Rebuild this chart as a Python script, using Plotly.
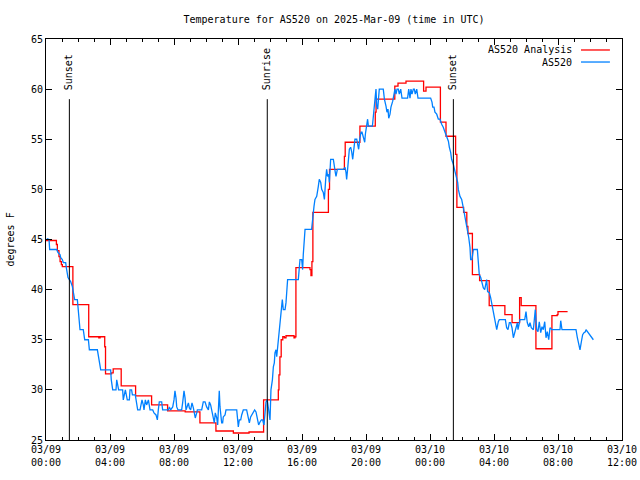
import plotly.graph_objects as go
import pandas as pd

# ---------------- data (hours after 2025-03-09 00:00 UTC, degrees F) ----------------
analysis_hours = [0.0, 0.65, 0.71, 0.81, 0.88, 0.96, 1.02, 1.68, 2.67, 3.3, 3.38, 3.67, 3.72,
                  4.1, 4.2, 4.7, 5.6, 6.6, 7.6, 8.7, 9.62, 10.62, 11.71, 12.69,
                  13.6, 14.52, 14.56, 14.62, 14.7, 14.8, 14.9, 15.0, 15.5, 15.56, 15.62,
                  16.5, 16.56, 16.62, 16.68, 17.65, 17.72, 18.65, 18.7, 19.62, 20.58, 20.63,
                  21.8, 22.0, 22.5, 23.6, 23.75, 24.65, 25.0, 25.6, 25.68, 26.1, 26.3, 26.37,
                  26.65, 27.1, 27.7, 28.68, 29.13, 29.6, 29.7, 30.62, 31.62, 31.95, 32.0, 32.6]
analysis_temp = [44.9, 44.5, 43.9, 43.3, 42.8, 42.5, 42.3, 38.5, 35.3, 35.2, 35.3, 34.3, 31.6,
                 31.7, 32.1, 30.4, 29.4, 28.5, 27.9, 27.8, 26.7, 25.9, 25.7, 25.8,
                 29.0, 30.0, 31.5, 33.3, 35.0, 35.3, 35.2, 35.4, 35.2, 35.3, 42.2,
                 42.0, 41.4, 42.8, 47.7, 50.0, 52.0, 53.3, 54.7, 56.3, 57.7, 59.0,
                 60.3, 60.6, 60.8, 59.8, 60.2, 56.7, 55.3, 53.5, 48.2, 47.7, 46.3, 45.6,
                 41.5, 40.9, 38.4, 37.5, 36.7, 39.2, 38.4, 34.1, 37.4, 37.5, 37.8, 37.8]

obs_hours = [0.05, 0.19, 0.23, 0.67, 0.75, 0.875, 0.92, 1.02, 1.08, 1.23, 1.27, 1.33, 1.375,
             1.46, 1.54, 1.65, 1.69, 1.75, 1.79, 1.96, 2.02, 2.08, 2.125, 2.33, 2.375, 2.42,
             2.65, 2.71, 3.21, 3.27, 3.31, 3.35, 3.42, 4.04, 4.08,
             4.17, 4.375, 4.42, 4.48, 4.54, 4.79, 4.83, 4.96, 5.04, 5.08, 5.21, 5.25, 5.35,
             5.40, 5.58, 5.67, 5.73, 5.875, 5.92, 6.0, 6.08, 6.125, 6.21, 6.29, 6.40, 6.46,
             6.5, 6.67, 6.75, 6.875, 6.96, 7.02, 7.08, 7.23, 7.29, 7.65, 7.71, 7.79, 7.92,
             8.0, 8.06, 8.125, 8.17, 8.25, 8.48, 8.54, 8.625, 8.69, 8.75, 8.9, 8.96, 9.04,
             9.125, 9.21, 9.29, 9.33, 9.42, 9.46, 9.73, 9.83, 9.94, 10.04, 10.15, 10.21,
             10.29, 10.35, 10.42, 10.46, 10.52, 10.58, 10.67, 10.73, 10.79, 10.83, 10.875,
             10.92, 10.98, 11.04, 11.08, 11.19, 11.25, 11.92, 11.96, 12.02, 12.08, 12.17,
             12.23, 12.33, 12.54, 12.625, 12.71, 12.79, 12.96, 13.04, 13.125, 13.21, 13.29,
             13.375, 13.46, 13.54, 13.625, 13.69, 13.75, 13.83, 13.92, 14.0,
             14.06, 14.15, 14.21, 14.27, 14.31, 14.375, 14.42, 14.48, 14.52, 14.58, 14.65,
             14.71, 14.77, 14.83, 14.94, 15.0, 15.06, 15.1, 15.77, 15.83, 15.875, 15.98,
             16.04, 16.08, 16.12, 16.15, 16.19, 16.6, 16.65, 16.71, 16.75, 16.81, 16.92,
             17.02, 17.08, 17.17, 17.23, 17.33, 17.4, 17.48, 17.54, 17.6, 17.67, 17.71,
             17.79, 17.96, 18.02, 18.08, 18.125, 18.21, 18.58, 18.69, 18.75, 18.79, 18.85,
             18.92, 18.96, 19.04, 19.1, 19.17, 19.25, 19.31, 19.42, 19.46, 19.54, 19.625,
             19.69, 19.75, 19.83, 19.92, 19.96, 20.04, 20.1, 20.15, 20.4, 20.46, 20.52,
             20.58, 20.625, 20.67, 20.73, 20.79, 20.83, 21.08, 21.15, 21.25, 21.31, 21.375,
             21.42,
             21.5, 21.56, 21.67, 21.75, 21.81, 21.875, 21.94, 22.02, 22.08, 22.17, 22.25,
             22.6, 22.67, 22.75, 22.81, 22.875, 22.96, 23.02, 23.08, 23.17, 23.25, 24.04,
             24.125, 24.17, 24.25, 24.31, 24.42, 24.52, 24.625, 24.73, 24.83, 24.94, 25.04,
             25.15, 25.21, 25.29, 25.35, 25.46, 25.56, 25.67, 25.73, 25.77, 25.875, 25.98,
             26.04, 26.125, 26.19, 26.25, 26.33, 26.42, 26.5, 26.54, 26.625, 26.71, 26.96,
             27.02, 27.08, 27.17, 27.23, 27.33, 27.42, 27.48, 27.54, 27.6, 27.71, 27.79,
             27.875, 27.96, 28.06, 28.17, 28.27, 28.33, 28.71, 28.79, 28.875, 28.96, 29.04,
             29.125, 29.21, 29.29, 29.375, 29.46, 29.5, 29.625, 29.92, 30.0, 30.08, 30.17,
             30.25, 30.33, 30.46, 30.54, 30.58, 30.67, 30.75, 30.83, 30.92, 31.0, 31.08,
             31.17, 31.25, 31.33, 31.42, 31.5, 31.625, 32.125, 32.17, 32.25, 33.125, 33.21,
             33.29, 33.375, 33.46, 33.54, 33.625, 33.71, 33.75, 34.0, 34.21]
obs_temp = [45.1, 45.0, 44.0, 44.0, 43.7, 43.5, 43.2, 43.0, 42.7, 42.7, 42.2, 41.7, 41.2,
            41.0, 40.8, 40.3, 40.0, 39.5, 39.0, 39.0, 37.7, 36.7, 36.0, 36.0, 35.5, 35.0,
            35.0, 34.0, 34.0, 33.5, 33.2, 32.5, 32.0, 32.0, 31.0,
            30.0, 30.0, 31.0, 30.5, 30.0, 30.0, 29.0, 30.0, 29.5, 29.0, 29.0, 30.0, 30.0,
            29.5, 29.5, 28.7, 28.0, 28.0, 28.5, 29.0, 28.5, 28.0, 29.0, 28.5, 29.0, 28.0,
            28.0, 28.0, 27.7, 27.5, 27.0, 28.0, 28.8, 28.8, 28.0, 28.0, 28.3, 28.0, 28.3,
            29.0, 29.9, 29.2, 28.3, 28.0, 28.0, 28.7, 29.9, 29.2, 28.0, 28.7, 28.2, 28.0,
            28.7, 28.2, 27.7, 27.2, 27.7, 28.0, 28.0, 28.8, 28.8, 28.3, 28.0, 28.8,
            28.5, 28.0, 27.7, 27.0, 26.7, 27.7, 27.2, 26.5, 29.0, 29.9, 28.3,
            27.7, 26.7, 26.7, 27.3, 27.5, 28.0, 28.0, 27.0, 26.3, 27.0, 27.0,
            27.5, 28.0, 28.0, 27.3, 26.7, 27.3, 27.7, 28.0, 27.8, 27.0, 26.5,
            26.8, 27.0, 27.0, 26.5, 27.7, 28.8, 29.0, 27.8, 27.0,
            30.0, 31.0, 32.3, 32.7, 33.7, 34.0, 33.3, 34.3, 35.3, 36.5, 37.3,
            38.5, 39.0, 38.0, 38.0, 38.7, 40.0, 41.0, 41.0, 42.2, 43.0, 43.0,
            42.0, 43.5, 45.0, 45.7, 46.0, 46.0, 47.0, 47.7, 48.3, 49.0, 49.3,
            50.3, 51.0, 50.7, 50.0, 49.7, 49.0, 51.0, 52.0, 51.3, 51.5, 50.7,
            53.0, 53.0, 52.0, 51.7, 51.3, 52.0, 52.0, 52.2, 51.7, 51.0, 52.0,
            53.0, 54.0, 54.2, 53.8, 53.0, 54.3, 55.0, 55.0, 54.7, 54.0, 55.2,
            55.7, 55.7, 55.3, 54.7, 55.5, 56.7, 57.0, 56.3, 56.3, 57.3, 58.7,
            59.3, 60.0, 58.3, 58.0, 59.2, 60.0, 60.0, 59.0, 58.3, 57.7, 58.0,
            57.1,
            57.5, 58.2, 58.8, 59.5, 60.0, 59.5, 60.0, 60.0, 59.5, 60.0, 59.1,
            59.1, 60.0, 59.1, 60.0, 59.5, 60.0, 60.0, 59.5, 60.0, 59.1, 59.1,
            58.7, 58.2, 58.2, 57.7, 57.5, 57.0, 57.0, 56.5, 56.2, 55.7, 55.3,
            54.8, 54.2, 53.7, 53.0, 52.5, 51.8, 51.0, 50.7, 50.0, 49.3, 49.0,
            48.3, 47.8, 47.2, 46.7, 46.0, 45.2, 44.2, 43.0, 43.0, 44.0, 44.0,
            42.2, 41.5, 41.2, 40.7, 40.2, 40.0, 40.8, 41.0, 39.8, 39.7, 39.2,
            38.5, 37.5, 36.8, 36.0, 36.8, 37.0, 37.0, 36.2, 36.0, 36.7, 36.7,
            36.2, 35.2, 35.7, 36.0, 36.7, 36.0, 37.0, 37.0, 37.8, 36.7, 36.3,
            36.7, 36.2, 36.0, 37.0, 38.0, 36.0, 35.8, 36.8, 35.7, 36.3, 36.0,
            36.8, 35.2, 35.8, 35.0, 36.2, 36.0, 36.0, 36.9, 36.0, 36.0, 35.2,
            34.7, 34.0, 34.8, 35.5, 35.7, 35.8, 36.0, 35.5, 35.0]

sun_hours = [1.46, 13.83, 25.46]
sun_labels = ["Sunset", "Sunrise", "Sunset"]

tick_hours = [0, 4, 8, 12, 16, 20, 24, 28, 32, 36]
tick_text = ["03/09<br>00:00", "03/09<br>04:00", "03/09<br>08:00", "03/09<br>12:00",
             "03/09<br>16:00", "03/09<br>20:00", "03/10<br>00:00", "03/10<br>04:00",
             "03/10<br>08:00", "03/10<br>12:00"]
y_ticks = [25, 30, 35, 40, 45, 50, 55, 60, 65]

series_names = ["AS520 Analysis", "AS520"]
series_colors = ["#ff0000", "#0080ff"]

BASE = pd.Timestamp("2025-03-09 00:00")


def to_time(hours):
    return [BASE + pd.Timedelta(hours=h) for h in hours]


FONT = "DejaVu Sans Mono"

fig = go.Figure()
fig.add_trace(go.Scatter(x=to_time(analysis_hours), y=analysis_temp, mode="lines",
                         line=dict(color=series_colors[0], width=1.3, shape="hv"),
                         name=series_names[0], showlegend=False))
fig.add_trace(go.Scatter(x=to_time(obs_hours), y=obs_temp, mode="lines",
                         line=dict(color=series_colors[1], width=1.3),
                         name=series_names[1], showlegend=False))

# sunrise / sunset markers
for h, lab in zip(sun_hours, sun_labels):
    t = BASE + pd.Timedelta(hours=h)
    fig.add_shape(type="line", xref="x", yref="y domain", x0=t, x1=t, y0=0, y1=0.85,
                  line=dict(color="black", width=1))
    fig.add_annotation(x=t, xref="x", y=0.868, yref="y domain", text=lab, textangle=-90,
                       showarrow=False, xanchor="center", yanchor="bottom",
                       font=dict(family=FONT, size=10, color="black"))

# legend drawn gnuplot-style (text left of sample)
legend_y = [0.9726, 0.9426]
for name, col, ly in zip(series_names, series_colors, legend_y):
    fig.add_annotation(x=0.9167, y=ly, xref="paper", yref="paper", text=name,
                       showarrow=False, xanchor="right", yanchor="middle",
                       font=dict(family=FONT, size=10, color="black"))
    fig.add_shape(type="line", xref="paper", yref="paper", x0=0.9288, x1=0.979,
                  y0=ly, y1=ly, line=dict(color=col, width=1.3))

fig.add_annotation(x=-0.0625, y=0.5, xref="paper", yref="paper", text="degrees F",
                   textangle=-90, showarrow=False, xanchor="center", yanchor="middle",
                   font=dict(family=FONT, size=10, color="black"))

fig.update_layout(
    width=640, height=480,
    margin=dict(l=46, r=18, t=39, b=40, autoexpand=False),
    paper_bgcolor="white", plot_bgcolor="white",
    font=dict(family=FONT, size=10, color="black"),
    title=dict(text="Temperature for AS520 on 2025-Mar-09 (time in UTC)",
               x=0.5, xref="paper", y=1 - 19 / 480, yref="container",
               xanchor="center", yanchor="middle",
               font=dict(family=FONT, size=10, color="black")),
    showlegend=False,
)
fig.update_xaxes(
    type="date", range=[BASE, BASE + pd.Timedelta(hours=36)],
    tickmode="array", tickvals=to_time(tick_hours), ticktext=tick_text,
    ticks="inside", ticklen=6, tickcolor="black", tickwidth=1,
    showline=True, linecolor="black", linewidth=1, mirror="ticks",
    showgrid=False, zeroline=False, automargin=False,
    minor=dict(dtick=3600000, ticks="inside", ticklen=3, tickcolor="black", showgrid=False),
    tickfont=dict(family=FONT, size=10, color="black"),
)
fig.update_yaxes(
    range=[25, 65], tickmode="array", tickvals=y_ticks,
    ticks="inside", ticklen=6, tickcolor="black", tickwidth=1,
    showline=True, linecolor="black", linewidth=1, mirror="ticks",
    showgrid=False, zeroline=False, automargin=False,
    tickfont=dict(family=FONT, size=10, color="black"),
)

fig.write_html("out.html")
